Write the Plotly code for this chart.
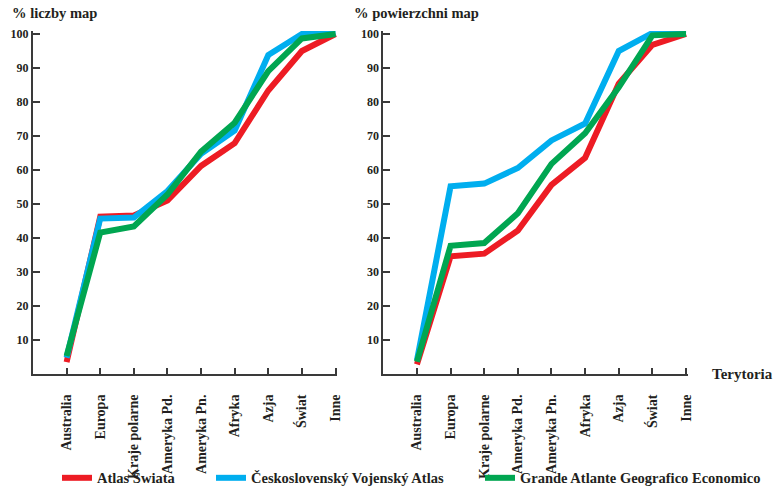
import plotly.graph_objects as go

categories = ["Australia", "Europa", "Kraje polarne", "Ameryka Pd.", "Ameryka Pn.",
              "Afryka", "Azja", "Świat", "Inne"]

series_names = ["Atlas Świata", "Československý Vojenský Atlas",
                "Grande Atlante Geografico Economico"]

# % liczby map (left panel)
count_atlas_swiata = [3.5, 46.3, 46.6, 51.0, 61.2, 67.9, 83.4, 95.0, 100]
count_csva = [4.8, 45.7, 46.0, 53.8, 64.8, 71.6, 93.8, 100, 100]
count_gage = [5.3, 41.6, 43.4, 52.8, 65.4, 73.9, 89.1, 98.7, 100]

# % powierzchni map (right panel)
area_atlas_swiata = [2.8, 34.6, 35.4, 42.2, 55.6, 63.6, 85.4, 96.8, 100]
area_csva = [4.0, 55.2, 56.0, 60.6, 68.7, 73.7, 95.0, 100.3, 100]
area_gage = [3.6, 37.7, 38.5, 47.3, 61.8, 70.8, 84.3, 99.6, 100]

y_ticks = [10, 20, 30, 40, 50, 60, 70, 80, 90, 100]

colors = ["#ED1C24", "#00AEEF", "#00A651"]
FONT = "Liberation Serif"
TXT = "#231F20"
AX = "#3A3A3A"

W, H = 773, 489

fig = go.Figure()

left = [count_atlas_swiata, count_csva, count_gage]
right = [area_atlas_swiata, area_csva, area_gage]
legends = ["legend", "legend2", "legend3"]

for i in range(3):
    fig.add_trace(go.Scatter(
        x=categories, y=left[i], mode="lines", name=series_names[i],
        line=dict(color=colors[i], width=6), xaxis="x", yaxis="y",
        legend=legends[i], showlegend=True, hoverinfo="skip"))
for i in range(3):
    fig.add_trace(go.Scatter(
        x=categories, y=right[i], mode="lines", name=series_names[i],
        line=dict(color=colors[i], width=6), xaxis="x2", yaxis="y2",
        showlegend=False, hoverinfo="skip"))

def px_x(p):
    return p / W

def px_y(p):
    return (H - p) / H

y_top_val = 100.9
y_top_px = 374 - 3.4 * y_top_val

xa = dict(type="category", range=[-1, 8.05], showline=True, linecolor=AX, linewidth=2,
          ticks="inside", ticklen=6, tickwidth=1.5, tickcolor=AX, tickangle=-90,
          showgrid=False, zeroline=False, ticklabelstandoff=13, automargin=False,
          tickfont=dict(family=FONT, size=14, color=TXT, weight="bold"),
          fixedrange=True)
ya = dict(range=[0, y_top_val], showline=True, linecolor=AX, linewidth=2,
          ticks="inside", ticklen=7, tickwidth=1.5, tickcolor=AX,
          tickvals=y_ticks, showgrid=False, zeroline=False, automargin=False,
          tickfont=dict(family=FONT, size=12, color=TXT, weight="bold"),
          fixedrange=True)

leg_common = dict(orientation="h", xanchor="left", yanchor="bottom",
                  font=dict(family=FONT, size=14.5, color=TXT, weight="bold"),
                  bgcolor="rgba(0,0,0,0)", borderwidth=0)

fig.update_layout(
    width=W, height=H,
    margin=dict(l=0, r=0, t=0, b=0, autoexpand=False),
    paper_bgcolor="white", plot_bgcolor="white",
    xaxis=dict(xa, domain=[px_x(33), px_x(337.2)], anchor="y"),
    yaxis=dict(ya, domain=[px_y(374), px_y(y_top_px)], anchor="x"),
    xaxis2=dict(xa, domain=[px_x(383.3), px_x(687.7)], anchor="y2"),
    yaxis2=dict(ya, domain=[px_y(374), px_y(y_top_px)], anchor="x2"),
    legend=dict(leg_common, x=px_x(57), y=-0.01),
    legend2=dict(leg_common, x=px_x(211), y=-0.01),
    legend3=dict(leg_common, x=px_x(480), y=-0.01),
    annotations=[
        dict(text="% liczby map", x=px_x(10), y=px_y(13), xref="paper", yref="paper",
             xanchor="left", yanchor="middle", showarrow=False,
             font=dict(family=FONT, size=14.5, color=TXT, weight="bold")),
        dict(text="% powierzchni map", x=px_x(352), y=px_y(13), xref="paper", yref="paper",
             xanchor="left", yanchor="middle", showarrow=False,
             font=dict(family=FONT, size=14.5, color=TXT, weight="bold")),
        dict(text="Terytoria", x=px_x(710), y=px_y(374), xref="paper", yref="paper",
             xanchor="left", yanchor="middle", showarrow=False,
             font=dict(family=FONT, size=15, color=TXT, weight="bold")),
    ],
)

fig.write_html("out.html", config={"displayModeBar": False},
               post_script="document.body.style.margin='0';document.body.style.overflow='hidden';")
